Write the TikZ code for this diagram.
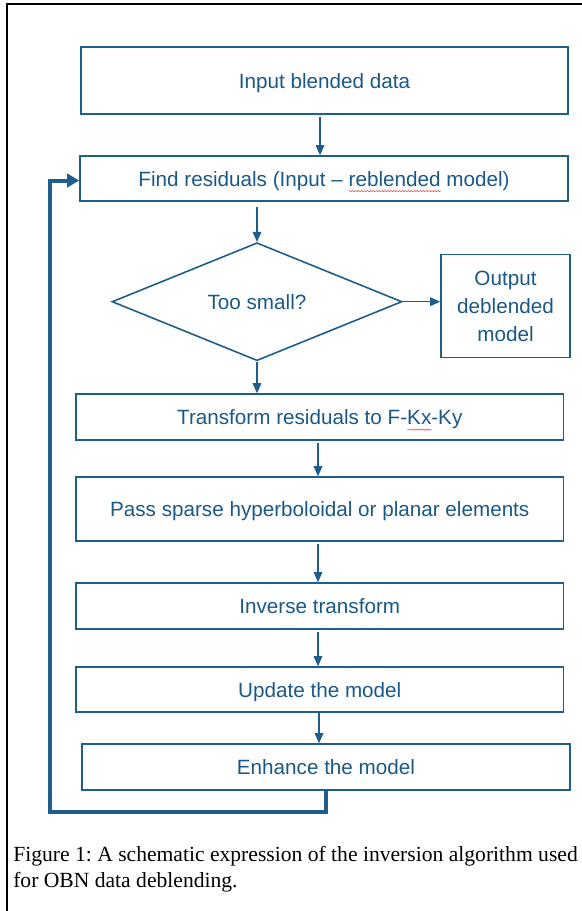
\documentclass[tikz,border=0pt]{standalone}
\usepackage{fontspec}
\usetikzlibrary{shapes.geometric,arrows.meta,decorations.pathmorphing}
\newfontfamily\boxfont{Liberation Sans}
\newfontfamily\capfont{Liberation Serif}
\definecolor{flowblue}{RGB}{31,93,140}
\definecolor{flowtext}{RGB}{26,88,136}
\definecolor{spellred}{RGB}{228,70,70}
% wavy proof-reading underline under a word
\newcommand\spellmark[1]{\setbox0=\hbox{#1}\rlap{\tikz[baseline=0pt]\draw[spellred,line width=0.4pt,decorate,decoration={snake,amplitude=0.45pt,segment length=2.2pt}] (0pt,-3.6pt) -- (\the\wd0,-3.6pt);}\box0\relax}

\begin{document}
\frenchspacing
\begin{tikzpicture}[x=0.75pt,y=-0.75pt,
  boxtext/.style={text=flowtext,font=\boxfont\fontsize{15.5}{21}\selectfont},
  stepbox/.style={draw=flowblue,line width=1.2pt,rectangle,inner sep=0pt,boxtext,
    text height=13pt,text depth=1.3pt},
  outbox/.style={draw=flowblue,line width=1.2pt,rectangle,inner sep=0pt,boxtext,align=center},
  decision/.style={draw=flowblue,line width=1.2pt,diamond,inner sep=0pt,boxtext,
    text height=13pt,text depth=1.3pt},
  arr/.style={draw=flowblue,line width=0.8pt,-{Triangle[length=7.5pt,width=6.5pt]}},
  fb/.style={draw=flowblue,line width=3pt,line join=miter,-{Triangle[length=9pt,width=10pt]}},
  capline/.style={anchor=base west,inner sep=0pt,font=\capfont\fontsize{16.2}{19.5}\selectfont}]

\path[use as bounding box] (0,0) rectangle (582,911);

% page frame (left and top edges)
\draw[black,line width=1.9pt,line join=miter] (7,911) -- (7,4) -- (582,4);

% process steps
\node[stepbox,minimum width=365.25pt,minimum height=50.25pt] (b1) at (324.5,80.5) {Input blended data};
\node[stepbox,minimum width=366pt,minimum height=33.75pt] (b2) at (324,178.5) {Find residuals (Input – \spellmark{reblended} model)};
\node[decision,minimum width=217.5pt,minimum height=88.5pt] (d) at (257,301.7) {Too small?};
\node[outbox,minimum width=96.75pt,minimum height=77.25pt] (out) at (505.5,306) {Output\\deblended\\model};
\node[stepbox,minimum width=365.6pt,minimum height=34.5pt] (b3) at (319.75,417) {Transform residuals to F-\spellmark{Kx}-Ky};
\node[stepbox,minimum width=365.6pt,minimum height=48pt] (b4) at (319.75,509) {Pass sparse hyperboloidal or planar elements};
\node[stepbox,minimum width=365.6pt,minimum height=34.5pt] (b5) at (319.75,606) {Inverse transform};
\node[stepbox,minimum width=365.6pt,minimum height=33.75pt] (b6) at (319.75,689.5) {Update the model};
\node[stepbox,minimum width=366pt,minimum height=34.5pt] (b7) at (326,767) {Enhance the model};

% connectors
\draw[arr,shorten <=2pt] (b1.south -| 320,0) -- (b2.north -| 320,0);
\draw[arr,shorten <=4pt] (b2.south -| d.north) -- (d.north);
\draw[arr] (d.east) -- (d.east -| out.west);
\draw[arr] (d.south) -- (b3.north -| d.south);
\draw[arr,shorten <=2pt] (b3.south -| 318,0) -- (b4.north -| 318,0);
\draw[arr,shorten <=2pt] (b4.south -| 318,0) -- (b5.north -| 318,0);
\draw[arr,shorten <=2pt] (b5.south -| 318,0) -- (b6.north -| 318,0);
\draw[arr] (b6.south -| 319,0) -- (b7.north -| 319,0);

% iteration loop
\coordinate (fbc) at (50,811.7);
\draw[fb] (b7.south) |- (fbc) |- ([yshift=-1.5pt]b2.west);

% caption
\node[capline] (cap1) at (13,861) {Figure 1: A schematic expression of the inversion algorithm used};
\node[capline] (cap2) at (13,887) {for OBN data deblending.};
\end{tikzpicture}
\end{document}
